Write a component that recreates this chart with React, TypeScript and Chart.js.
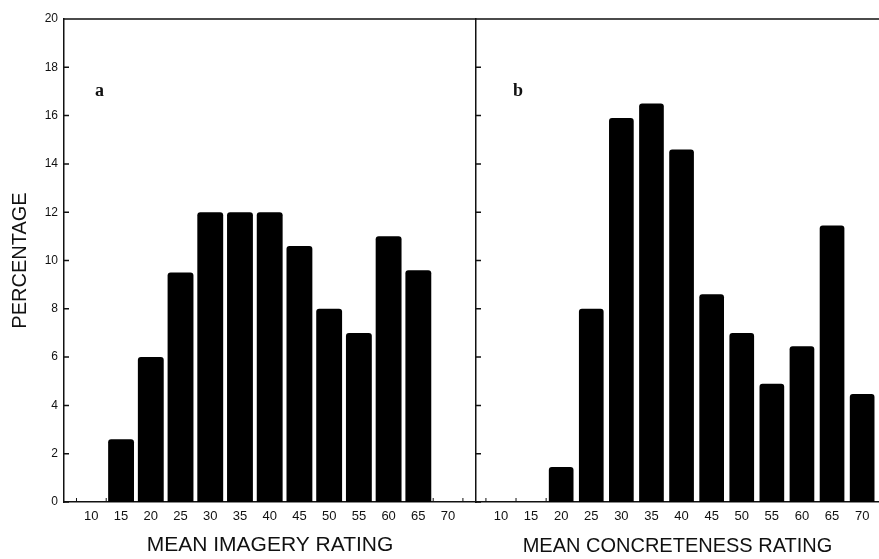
import React, { useEffect, useRef } from 'react';
import { Chart, registerables } from 'chart.js';

Chart.register(...registerables);

const ratingCategories = [10, 15, 20, 25, 30, 35, 40, 45, 50, 55, 60, 65, 70];
const imageryPercent = [0, 2.6, 6.0, 9.5, 12, 12, 12, 10.6, 8.0, 7.0, 11.0, 9.6, 0];
const concretenessPercent = [0, 0, 1.45, 8.0, 15.9, 16.5, 14.6, 8.6, 7.0, 4.9, 6.45, 11.45, 4.47];
const percentTicks = [0, 2, 4, 6, 8, 10, 12, 14, 16, 18, 20];
const imageryTitle = 'MEAN IMAGERY RATING';
const concretenessTitle = 'MEAN CONCRETENESS RATING';
const percentTitle = 'PERCENTAGE';

const INK = '#111';
const SANS = '"Liberation Sans", Arial, sans-serif';

const framePlugin = {
  id: 'frame',
  afterDatasetsDraw(chart: any, _args: any, opts: any) {
    const { ctx, chartArea, scales } = chart;
    const x = scales.x;
    const y = scales.y;
    const values: number[] = opts.values;
    ctx.save();
    ctx.strokeStyle = INK;
    ctx.lineWidth = 1.5;
    ctx.beginPath();
    ctx.moveTo(chartArea.left, chartArea.top);
    ctx.lineTo(chartArea.right, chartArea.top);
    for (const v of percentTicks) {
      const py = y.getPixelForValue(v);
      ctx.moveTo(chartArea.left, py);
      ctx.lineTo(chartArea.left + 5, py);
    }
    ctx.stroke();
    // small upward ticks on the baseline, only where a bin next to them is empty
    ctx.lineWidth = 1;
    ctx.beginPath();
    for (let i = 0; i <= ratingCategories.length; i++) {
      const here = i < values.length ? values[i] : 0;
      const prev = i > 0 ? values[i - 1] : 0;
      if (here !== 0 && prev !== 0) continue;
      const c = i < ratingCategories.length ? ratingCategories[i] - 2.5 : ratingCategories[i - 1] + 2.5;
      const px = x.getPixelForValue(c);
      if (px > chartArea.left + 3 && px < chartArea.right - 3) {
        ctx.moveTo(px, chartArea.bottom);
        ctx.lineTo(px, chartArea.bottom - 4);
      }
    }
    ctx.stroke();
    ctx.fillStyle = INK;
    ctx.font = 'bold 18px "Liberation Serif", serif';
    ctx.textBaseline = 'alphabetic';
    ctx.fillText(opts.letter, chartArea.left + opts.dx, chartArea.top + 77);
    ctx.restore();
  },
};

function makeConfig(values: number[], opts: {
  xMin: number; xMax: number; title: string; titleSize: number; letter: string; dx: number;
  showY: boolean; padding: any; barPct: number;
}) {
  return {
    type: 'bar',
    data: {
      datasets: [
        {
          data: ratingCategories.map((c, i) => ({ x: c, y: values[i] })),
          backgroundColor: '#000',
          borderWidth: 0,
          borderRadius: 3,
          borderSkipped: 'bottom',
          barPercentage: opts.barPct,
          categoryPercentage: 1,
        },
      ],
    },
    options: {
      animation: false,
      responsive: false,
      layout: { padding: opts.padding },
      plugins: {
        legend: { display: false },
        tooltip: { enabled: false },
        frame: { letter: opts.letter, dx: opts.dx, values },
      },
      scales: {
        x: {
          type: 'linear',
          min: opts.xMin,
          max: opts.xMax,
          offset: false,
          grid: { display: false, drawTicks: false },
          border: { display: true, color: INK, width: 1.5 },
          afterBuildTicks: (scale: any) => {
            scale.ticks = ratingCategories.map((v) => ({ value: v }));
          },
          afterFit: (scale: any) => {
            scale.height = 57;
          },
          ticks: {
            autoSkip: false,
            maxRotation: 0,
            padding: 7,
            color: INK,
            font: { family: SANS, size: 13 },
            callback: (v: any) => String(v),
          },
          title: {
            display: true,
            text: opts.title,
            color: INK,
            font: { family: SANS, size: opts.titleSize },
            padding: { top: 0, bottom: 1 },
          },
        },
        y: {
          min: 0,
          max: 20,
          grid: { display: false, drawTicks: false },
          border: { display: true, color: INK, width: 1.5 },
          afterBuildTicks: (scale: any) => {
            scale.ticks = percentTicks.map((v) => ({ value: v }));
          },
          afterFit: (scale: any) => {
            scale.width = opts.showY ? 64 : 0;
          },
          ticks: {
            display: opts.showY,
            padding: 6,
            color: INK,
            font: { family: SANS, size: 12 },
          },
          title: {
            display: opts.showY,
            text: percentTitle,
            color: INK,
            font: { family: SANS, size: 20 },
            padding: { top: 8, bottom: 0 },
          },
        },
      },
    },
    plugins: [framePlugin],
  } as any;
}

export default function App() {
  const leftRef = useRef<HTMLCanvasElement>(null);
  const rightRef = useRef<HTMLCanvasElement>(null);

  useEffect(() => {
    const left = new Chart(
      leftRef.current!,
      makeConfig(imageryPercent, {
        xMin: 5.4, xMax: 74.7, title: imageryTitle, titleSize: 21, letter: 'a', dx: 31,
        showY: true, padding: { top: 19, right: 4, left: 0, bottom: 0 }, barPct: 0.87,
      })
    );
    const right = new Chart(
      rightRef.current!,
      makeConfig(concretenessPercent, {
        xMin: 5.85, xMax: 72.8, title: concretenessTitle, titleSize: 20, letter: 'b', dx: 37,
        showY: false, padding: { top: 19, right: 0, left: 6, bottom: 0 }, barPct: 0.82,
      })
    );
    return () => {
      left.destroy();
      right.destroy();
    };
  }, []);

  return (
    <div style={{ position: 'fixed', left: 0, top: 0, width: 879, height: 559, background: '#fff' }}>
      <canvas ref={leftRef} width={480} height={559}
        style={{ position: 'absolute', left: 0, top: 0, width: 480, height: 559, display: 'block' }} />
      <canvas ref={rightRef} width={409} height={559}
        style={{ position: 'absolute', left: 470, top: 0, width: 409, height: 559, display: 'block' }} />
    </div>
  );
}
